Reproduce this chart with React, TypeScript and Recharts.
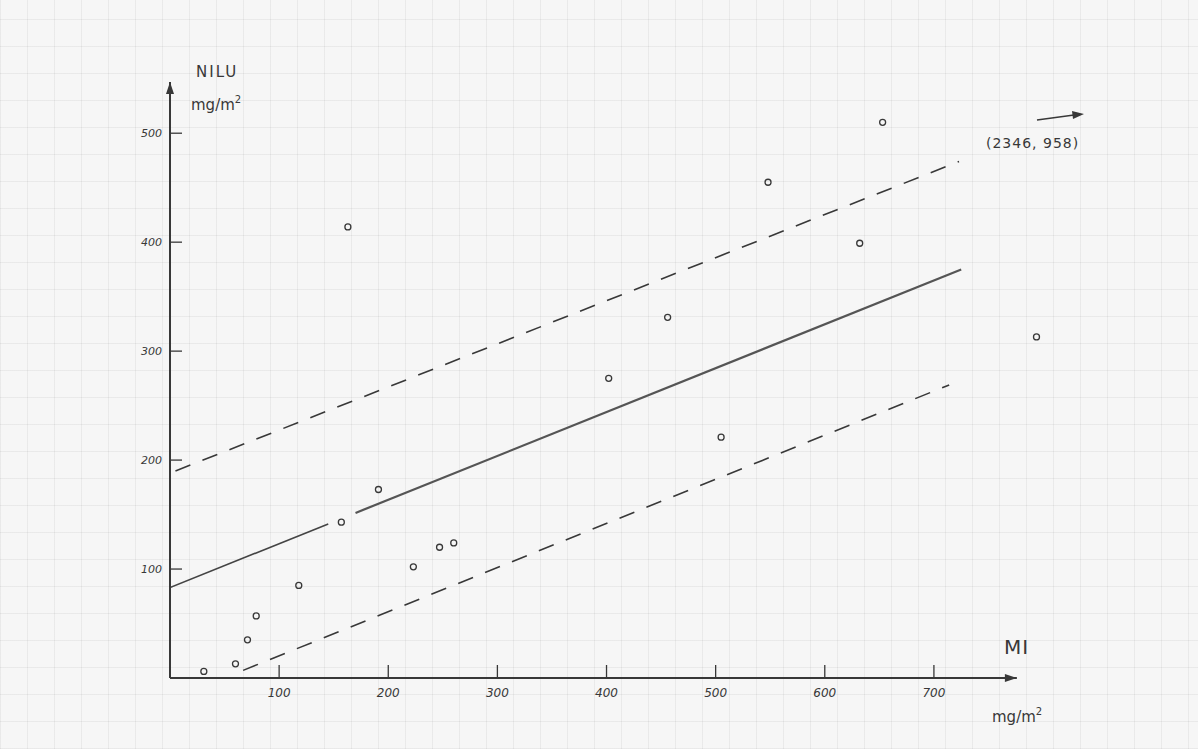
import React from "react";
import {
  ComposedChart,
  XAxis,
  YAxis,
  Scatter,
  Line,
  ReferenceLine,
  ReferenceDot,
} from "recharts";

// MI (x, mg/m2) vs NILU (y, mg/m2) observations
const miValues = [31, 60, 71, 79, 118, 157, 191, 163, 223, 247, 260, 402, 456, 505, 548, 632, 653, 794];
const niluValues = [6, 13, 35, 57, 85, 143, 173, 414, 102, 120, 124, 275, 331, 221, 455, 399, 510, 313];

// regression line (drawn in two pieces, with a gap as in the original)
const fitA_x = [0, 145];
const fitA_y = [83, 141.4];
const fitB_x = [170, 725];
const fitB_y = [151.5, 375];
// confidence band (dashed)
const upper_x = [5, 723];
const upper_y = [190, 474];
const lower_x = [67, 714];
const lower_y = [7, 269];

const xTicks = [100, 200, 300, 400, 500, 600, 700];
const yTicks = [100, 200, 300, 400, 500];
const xAxisEnd = 776;
const yAxisEnd = 547;
const outlierNote = "(2346, 958)";

const toRows = (xs: number[], ys: number[]) => xs.map((x, i) => ({ x, y: ys[i] }));
const points = toRows(miValues, niluValues);
const fitA = toRows(fitA_x, fitA_y);
const fitB = toRows(fitB_x, fitB_y);
const upper = toRows(upper_x, upper_y);
const lower = toRows(lower_x, lower_y);

const INK = "#383838";
const FONT = "'DejaVu Sans', sans-serif";

const XTick = (props: any) => {
  const { x, y, payload } = props;
  return (
    <g>
      <line x1={x} y1={y} x2={x} y2={y - 13} stroke={INK} strokeWidth={1.3} />
      <text x={x} y={y + 19} textAnchor="middle" fontSize={12} fontStyle="italic" fill={INK} fontFamily={FONT}>
        {payload.value}
      </text>
    </g>
  );
};

const YTick = (props: any) => {
  const { x, y, payload } = props;
  return (
    <g>
      <line x1={x} y1={y} x2={x + 12} y2={y} stroke={INK} strokeWidth={1.3} />
      <text x={x - 8} y={y + 4} textAnchor="end" fontSize={11} fontStyle="italic" fill={INK} fontFamily={FONT}>
        {payload.value}
      </text>
    </g>
  );
};

const Ring = (props: any) => {
  const { cx, cy } = props;
  return <circle cx={cx} cy={cy} r={3} fill="none" stroke={INK} strokeWidth={1.3} />;
};

const ArrowRight = (props: any) => {
  const { cx, cy } = props;
  return <path d={`M${cx - 12},${cy - 4} L${cx},${cy} L${cx - 12},${cy + 4} Z`} fill={INK} />;
};
const ArrowUp = (props: any) => {
  const { cx, cy } = props;
  return <path d={`M${cx - 4},${cy + 12} L${cx},${cy} L${cx + 4},${cy + 12} Z`} fill={INK} />;
};

export default function App() {
  const grid =
    "repeating-linear-gradient(0deg, rgba(0,0,0,0.05) 0px, rgba(0,0,0,0.05) 1px, transparent 1px, transparent 27px)," +
    "repeating-linear-gradient(90deg, rgba(0,0,0,0.05) 0px, rgba(0,0,0,0.05) 1px, transparent 1px, transparent 27px)";
  return (
    <div
      style={{
        position: "absolute",
        left: 0,
        top: 0,
        width: 1198,
        height: 749,
        backgroundColor: "#f6f6f6",
        backgroundImage: grid,
      }}
    >
      <ComposedChart
        width={1198}
        height={749}
        margin={{ top: 82, right: 24, bottom: 31, left: 110 }}
      >
        <XAxis
          type="number"
          dataKey="x"
          domain={[0, 920]}
          ticks={xTicks}
          axisLine={false}
          tickLine={false}
          tickSize={0}
          tickMargin={0}
          tick={<XTick />}
          height={40}
          allowDataOverflow
        />
        <YAxis
          type="number"
          dataKey="y"
          domain={[0, yAxisEnd]}
          ticks={yTicks}
          axisLine={{ stroke: INK, strokeWidth: 2 }}
          tickLine={false}
          tickSize={0}
          tickMargin={0}
          tick={<YTick />}
          width={60}
          allowDataOverflow
        />
        <ReferenceLine
          segment={[{ x: 0, y: 0 }, { x: xAxisEnd, y: 0 }]}
          stroke={INK}
          strokeWidth={2}
          ifOverflow="visible"
        />
        <ReferenceDot x={xAxisEnd} y={0} shape={<ArrowRight />} ifOverflow="visible" />
        <ReferenceDot x={0} y={yAxisEnd} shape={<ArrowUp />} ifOverflow="visible" />

        <Line data={upper} dataKey="y" type="linear" dot={false} stroke={INK} strokeWidth={1.6} strokeDasharray="16 13" isAnimationActive={false} />
        <Line data={lower} dataKey="y" type="linear" dot={false} stroke={INK} strokeWidth={1.6} strokeDasharray="16 13" isAnimationActive={false} />
        <Line data={fitA} dataKey="y" type="linear" dot={false} stroke="#444" strokeWidth={1.6} isAnimationActive={false} />
        <Line data={fitB} dataKey="y" type="linear" dot={false} stroke="#555" strokeWidth={2.2} isAnimationActive={false} />
        <Scatter data={points} dataKey="y" shape={<Ring />} isAnimationActive={false} />

        <text x={196} y={77} fontSize={15} fill={INK} fontFamily={FONT} letterSpacing={2}>NILU</text>
        <text x={191} y={110} fontSize={15} fill={INK} fontFamily={FONT}>
          mg/m<tspan dy={-7} fontSize={10}>2</tspan>
        </text>
        <text x={1004} y={654} fontSize={20} fill={INK} fontFamily={FONT} letterSpacing={1}>MI</text>
        <text x={992} y={722} fontSize={15} fill={INK} fontFamily={FONT}>
          mg/m<tspan dy={-7} fontSize={10}>2</tspan>
        </text>
        <text x={986} y={148} fontSize={14} fill={INK} fontFamily={FONT} letterSpacing={1}>{outlierNote}</text>
        <path d="M1037,120 L1074,115" stroke={INK} strokeWidth={1.5} fill="none" />
        <path d="M1072,111 L1084,114 L1073,119 Z" fill={INK} />
      </ComposedChart>
    </div>
  );
}
